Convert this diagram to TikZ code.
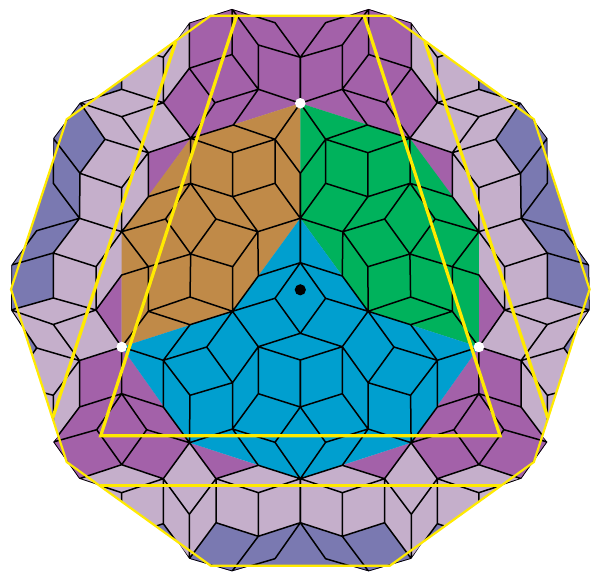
\documentclass[tikz,border=0pt]{standalone}
\definecolor{cpurple}{HTML}{A361A9}
\definecolor{clilac}{HTML}{C5AFCB}
\definecolor{cgrey}{HTML}{7A79B1}
\definecolor{cbrown}{HTML}{C08A48}
\definecolor{cgreen}{HTML}{00B25C}
\definecolor{cblue}{HTML}{009FCF}
\definecolor{cyell}{HTML}{FFEA00}
\tikzset{
  edge/.style={draw=black,line width=1.5pt,line cap=round,line join=round},
  thinyell/.style={draw=cyell,line width=2.2pt,line join=miter},
  fatyell/.style={draw=cyell,line width=3.2pt,line join=miter},
  mirrored/.style={shift={(600.6,0)},xscale=-1},
}
\newcommand\halffills{%
  \fill[cpurple] (301,0)--(189.3,0)--(189.3,68.3)--(163.3,102.7)--(190.7,138.3)--(148.3,152.7)--(148.3,196.7)--(190.7,138.3)--(300.3,103.3)--(301,103.3)--cycle;
  \fill[cpurple] (121.7,275)--(96,310)--(121.7,347)--(79.5,360.5)--(79.5,407)--(53.3,442)--(79.3,478.7)--(121.7,464.7)--(163.3,478.7)--(189.5,442.7)--(216,478.7)--(258.3,465.3)--(189.5,442.7)--(121.7,347)--cycle;
  \fill[cgrey] (121.7,89.3)--(80,102.7)--(105,139.3)--(80,173.3)--(79.5,218.3)--(53.3,253)--(53.3,298)--(11,310)--(0,310)--(0,100)--(121.7,40)--cycle;
  \fill[cgrey] (11,310)--(36.7,348)--(10.8,384)--(0,384)--cycle;
  \fill[cgrey] (163.3,523.7)--(189.3,558.7)--(150,558)--(121.7,537)--cycle;
  \fill[cgrey] (216,522.7)--(258.3,536.3)--(300.3,522.7)--(301,522.7)--(301,600)--(189.3,600)--(189.3,558.7)--cycle;
}
\newcommand\halfedges{%
  \draw[edge]
   (189.3,22.7)--(232,9)--(275,22.7)--(300.3,57.3)
   (232,9)--(232,54.5)--(258.3,89.3)--(300.3,103.3)
   (232,9)--(258.3,45)--(258.3,89.3)
   (258.3,45)--(300.3,57.3)
   (300.3,57.3)--(300.3,103.3)
   (189.3,22.7)--(189.3,68.3)--(232,54.5)
   (189.3,68.3)--(215,102.7)--(258.3,89.3)
   (189.3,68.3)--(163.3,102.7)--(190.7,138.3)--(215,102.7)
   (258.3,89.3)--(233.3,125)--(190.7,138.3)
   (233.3,125)--(275,139.3)--(300.3,103.3)
   (190.7,138.3)--(232.7,152.7)--(275,139.3)
   (232.7,152.7)--(232.7,196.7)
   (190.7,138.3)--(190.5,183.3)--(232.7,196.7)--(275,183.3)--(275,139.3)
   (275,183.3)--(300.3,218.3)
   (275,139.3)--(300.3,173.3)--(300.3,218.3)
   (232.7,196.7)--(257.8,231.7)--(300.3,218.3)
   (190.5,183.3)--(216,219)--(257.8,231.7)
   (190.5,183.3)--(165.5,219)--(190.7,254)--(216,219)
   (257.8,231.7)--(232.7,266.7)--(190.7,254)--(148.3,266.7)
   (165.5,219)--(121.7,231.7)--(148.3,266.7)
   (190.5,183.3)--(148.3,196.7)--(121.7,231.7)
   (148.3,152.7)--(148.3,196.7)
   (190.7,138.3)--(148.3,152.7)
   (163.3,102.7)--(121.7,116.7)--(148.3,152.7)--(105,139.3)
   (80,102.7)--(105,139.3)
   (80,102.7)--(121.7,89.3)--(163.3,102.7)
   (80,102.7)--(121.7,116.7)
   (121.7,89.3)--(121.7,43.7)
   (163.3,102.7)--(163.3,57.3)--(121.7,43.7)
   (163.3,57.3)--(189.3,22.7)
   (105,139.3)--(80,173.3)--(121.7,187.7)--(148.3,152.7)
   (80,102.7)--(53.3,138.3)--(80,173.3)
   (53.3,138.3)--(53.3,183.3)--(79.5,218.3)
   (80,173.3)--(79.5,218.3)--(121.7,231.7)
   (121.7,187.7)--(121.7,231.7)
   (79.5,218.3)--(36.7,230.7)--(11.5,265)
   (79.5,218.3)--(53.3,253)--(11.5,265)
   (53.3,253)--(96,266.7)--(121.7,231.7)
   (11.5,265)--(11,310)--(53.3,298)--(53.3,253)
   (53.3,298)--(96,310)--(96,266.7)
   (11,310)--(53.3,324.5)--(96,310)
   (53.3,324.5)--(79.5,360.5)
   (11,310)--(36.7,348)--(79.5,360.5)
   (96,310)--(121.7,347)--(79.5,360.5)
   (96,310)--(121.7,275)--(148.3,266.7)
   (79.5,360.5)--(53.3,395.3)--(10.8,384)--(36.7,348)
   (53.3,395.3)--(53.3,442)
   (79.5,360.5)--(79.5,407)--(121.7,393.7)--(121.7,347)
   (79.5,407)--(53.3,442)--(96.7,429.7)--(121.7,393.7)--(146.7,429.7)--(121.7,464.7)--(96.7,429.7)
   (53.3,442)--(79.3,478.7)--(121.7,464.7)--(163.3,478.7)--(189.5,442.7)--(146.7,429.7)
   (121.7,393.7)--(163.3,407)--(189.5,442.7)
   (79.3,478.7)--(121.7,492.7)--(163.3,478.7)
   (121.7,492.7)--(121.7,537)--(163.3,523.7)--(163.3,478.7)
   (163.3,478.7)--(189.3,514.3)--(216,478.7)--(189.5,442.7)
   (189.3,514.3)--(189.3,558.7)--(163.3,523.7)
   (216,478.7)--(216,522.7)--(189.3,558.7)--(232,571.3)
   (216,478.7)--(258.3,465.3)--(300.3,478.7)
   (216,478.7)--(258.3,492.7)--(300.3,478.7)
   (258.3,492.7)--(258.3,536.3)--(216,522.7)
   (258.3,536.3)--(300.3,522.7)--(300.3,478.7)
   (258.3,536.3)--(232,571.3)
   (300.3,522.7)--(275,558.7)--(232,571.3)
   (300.3,218.3)--(300.3,262.7)--(258.3,276)--(257.8,231.7)
   (232.7,266.7)--(232.5,311.3)--(258.3,276)
   (300.3,262.7)--(275,298.3)--(300.3,333.3)--(258.3,346.7)--(232.5,311.3)--(275,298.3)
   (232.5,311.3)--(206.7,347)--(232.5,382.7)--(258.3,346.7)
   (258.3,346.7)--(258.3,393.7)--(300.3,407)
   (258.3,393.7)--(232.5,429)--(232.5,382.7)
   (206.7,347)--(163.3,360.3)--(190,395.3)--(232.5,382.7)
   (163.3,360.3)--(163.3,407)
   (190,395.3)--(189.5,442.7)--(232.5,429)
   (232.5,429)--(275,442.3)--(300.3,478.7)
   (275,442.3)--(300.3,407)
   (232.5,429)--(258.3,465.3)
   (258.3,346.7)--(300.3,360)--(300.3,407)
   (163.3,360.3)--(190,324.7)--(232.5,311.3)--(190,297)--(148.3,311.3)--(190,324.7)
   (121.7,347)--(163.3,360.3)
   (148.3,311.3)--(121.7,347)
   (148.3,311.3)--(148.3,266.7)
   (190,297)--(190.7,254)
   (232.5,311.3)--(232.7,266.7);
}
\begin{document}
\begin{tikzpicture}[x=1pt,y=-1pt]
\useasboundingbox (0,0) rectangle (593,572);
\begin{scope}
\clip (253.3,15.7)--(232,9)--(189.3,22.7)--(175.7,41.7)--(98,96.8)--(80,102.7)--(53.3,138.3)--(53.3,160.2)--(24.5,247)--(11.5,265)--(11,310)--(23.8,329.4)--(58.9,435.5)--(53.3,442)--(79.3,478.7)--(99.5,485.5)--(177.5,541.5)--(189.3,558.7)--(232,571.3)--(251,565.7)--(349.6,565.7)--(368.6,571.3)--(411.3,558.7)--(423.1,541.5)--(501.1,485.5)--(521.3,478.7)--(547.3,442)--(541.7,435.5)--(576.8,329.4)--(589.6,310)--(589.1,265)--(576.1,247)--(547.3,160.2)--(547.3,138.3)--(520.6,102.7)--(502.6,96.8)--(424.9,41.7)--(411.3,22.7)--(368.6,9)--(347.3,15.7)--cycle;
\fill[clilac] (0,0) rectangle (600,572);
\halffills
\begin{scope}[mirrored]\halffills\end{scope}
\fill[cbrown] (300.3,103.3)--(190.7,138.3)--(121.7,232)--(121.7,347)--(232.5,311.3)--(300.3,218.3)--cycle;
\fill[cgreen] (300.3,103.3)--(409.9,138.3)--(478.9,232)--(478.9,347)--(368.1,311.3)--(300.3,218.3)--cycle;
\fill[cblue] (300.3,218.3)--(232.5,311.3)--(121.7,347)--(189.5,442.7)--(300.3,478.7)--(411.1,442.7)--(478.9,347)--(368.1,311.3)--cycle;
\halfedges
\begin{scope}[mirrored]\halfedges\end{scope}
\end{scope}
\draw[thinyell] (210.7,15.7)--(66.7,119.3)--(11,289.3)--(66.7,462)--(210.7,565.7)--(389.9,565.7)--(533.9,462)--(589.6,289.3)--(533.9,119.3)--(389.9,15.7)--cycle;
\draw[fatyell] (236.7,15.7)--(100.7,435.7)--(500,435.7)--(364,15.7);
\draw[fatyell] (175.7,41.7)--(52.7,418);
\draw[fatyell] (424.9,41.7)--(547.9,418);
\draw[fatyell] (100,485.7)--(500.6,485.7);
\fill[white] (300.3,103.3) circle (5.3);
\fill[white] (121.7,347) circle (5.3);
\fill[white] (478.9,347) circle (5.3);
\fill[black] (300.3,289.8) circle (5.6);
\end{tikzpicture}
\end{document}
